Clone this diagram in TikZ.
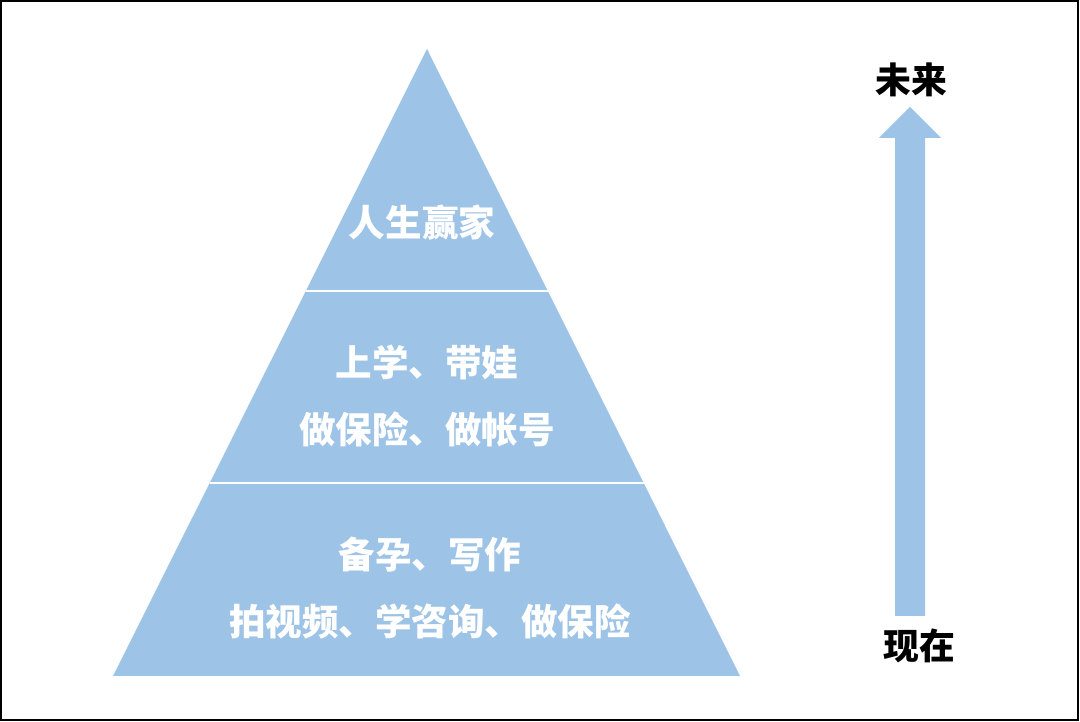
\documentclass[tikz,border=0pt]{standalone}
\usepackage{fontspec}
\newfontfamily\cjk{Noto Sans CJK SC}
\usepackage{tikz}
\usetikzlibrary{calc}
\definecolor{pyrBlue}{HTML}{9DC3E6}

\begin{document}
\begin{tikzpicture}[x=0.02cm, y=-0.02cm,
  tier/.style={text=white, font=\cjk\bfseries\fontsize{20.8}{38}\selectfont, align=center, inner sep=0pt},
  tag/.style={text=black, font=\cjk\bfseries\fontsize{20.4}{24}\selectfont, inner sep=0pt}]
\useasboundingbox (0,0) rectangle (1080,722);
% frame
\draw[line width=1pt] (1,1) rectangle (1078,720);
% pyramid
\coordinate (apex) at (427,49);
\coordinate (bl) at (113,676);
\coordinate (br) at (740,676);
\fill[pyrBlue] (apex) -- (br) -- (bl) -- cycle;
% dividers
\draw[white, line width=1.3pt] ($(apex)!0.386!(bl)$) -- ($(apex)!0.386!(br)$);
\draw[white, line width=1.3pt] ($(apex)!0.692!(bl)$) -- ($(apex)!0.692!(br)$);
% tiers
\node[tier] (top) at (422,222) {人生赢家};
\node[tier] (mid) at (427,396) {上学、带娃\\做保险、做帐号};
\node[tier] (low) at (430,588) {备孕、写作\\拍视频、学咨询、做保险};
% time arrow
\fill[pyrBlue] (895,616) -- (895,138) -- (879,138) -- (910,107)
  -- (941,138) -- (925,138) -- (925,616) -- cycle;
\node[tag] (future) at (911,80) {未来};
\node[tag] (now) at (919,646) {现在};
\end{tikzpicture}
\end{document}
